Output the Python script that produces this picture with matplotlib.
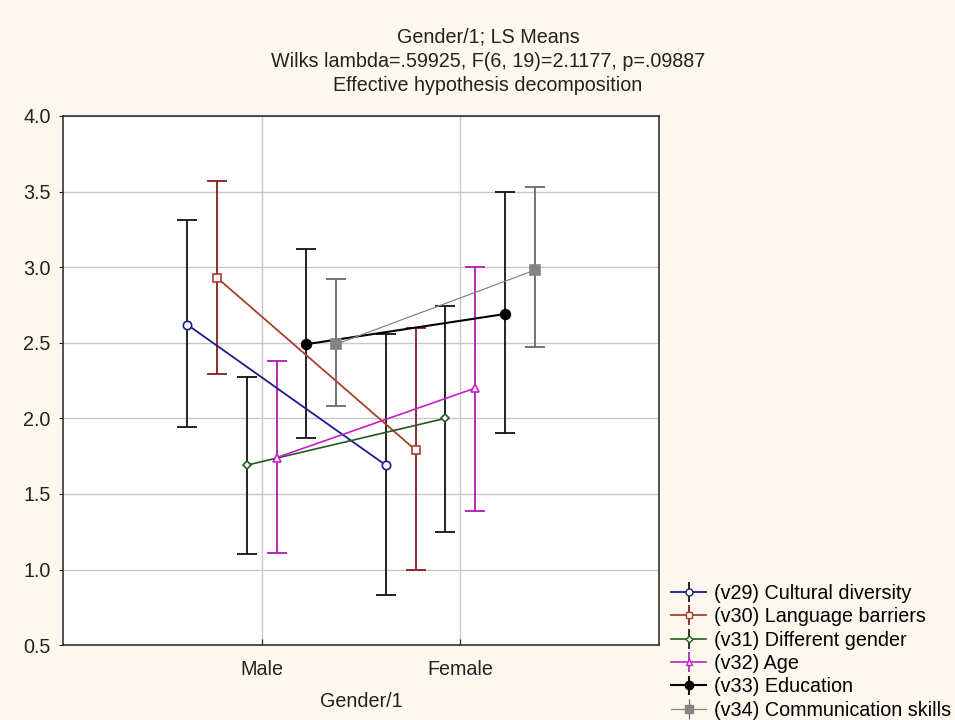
import matplotlib

matplotlib.use("Agg")
import matplotlib.pyplot as plt
import numpy as np

plt.rcParams["font.family"] = ["Liberation Sans", "DejaVu Sans"]

# LS means and confidence limits by gender (Male, Female)
groups = ["Male", "Female"]
labels = [
    "(v29) Cultural diversity",
    "(v30) Language barriers",
    "(v31) Different gender",
    "(v32) Age",
    "(v33) Education",
    "(v34) Communication skills",
]
means = [
    [2.62, 1.69],
    [2.93, 1.79],
    [1.69, 2.00],
    [1.74, 2.20],
    [2.49, 2.69],
    [2.49, 2.98],
]
upper = [
    [3.31, 2.56],
    [3.57, 2.60],
    [2.27, 2.74],
    [2.38, 3.00],
    [3.12, 3.50],
    [2.92, 3.53],
]
lower = [
    [1.94, 0.83],
    [2.29, 1.00],
    [1.10, 1.25],
    [1.11, 1.39],
    [1.87, 1.90],
    [2.08, 2.47],
]

line_colors = ["#1c1c8c", "#a8402e", "#1d5c22", "#c81ec8", "#000000", "#858585"]
bar_colors = ["#111111", "#8a1e1e", "#111111", "#b418b4", "#111111", "#6a6a6a"]
markers = ["o", "s", "D", "^", "o", "s"]
filled = [False, False, False, False, True, True]
msizes = [6, 6, 4.5, 6, 7, 7]
line_widths = [1.3, 1.3, 1.2, 1.2, 1.5, 0.9]

FS = 14.2
TXT = "#222222"

fig = plt.figure(figsize=(9.55, 7.2), dpi=100, facecolor="#fcf8ee")
ax = fig.add_axes([0.066, 0.104, 0.624, 0.735])
ax.set_facecolor("white")

base_x = np.array([1.0, 2.0])
offsets = np.linspace(-0.375, 0.375, len(labels))
for i, lab in enumerate(labels):
    x = base_x + offsets[i]
    m = np.array(means[i])
    yerr = [m - np.array(lower[i]), np.array(upper[i]) - m]
    ax.errorbar(
        x, m, yerr=yerr,
        fmt="none", ecolor=bar_colors[i], elinewidth=1.3,
        capsize=7, capthick=1.3, zorder=2,
    )
    ax.plot(
        x, m,
        color=line_colors[i], linewidth=line_widths[i],
        marker=markers[i], markersize=msizes[i],
        markerfacecolor=line_colors[i] if filled[i] else "white",
        markeredgecolor=line_colors[i], markeredgewidth=1.2,
        zorder=3,
    )

# legend handles with the whiskers drawn in
handles = []
for i, lab in enumerate(labels):
    h = ax.errorbar(
        [], [], yerr=[],
        color=line_colors[i], ecolor=bar_colors[i], linewidth=line_widths[i],
        marker=markers[i], markersize=msizes[i] - 1,
        markerfacecolor=line_colors[i] if filled[i] else "white",
        markeredgecolor=line_colors[i], capsize=10, label=lab,
    )
    handles.append(h)

ax.set_xlim(0, 3)
ax.set_ylim(0.5, 4.0)
ax.set_xticks(base_x)
ax.set_xticklabels(groups)
ax.set_yticks(np.arange(0.5, 4.01, 0.5))
ax.set_yticklabels([f"{v:.1f}" for v in np.arange(0.5, 4.01, 0.5)])
ax.grid(True, color="#c8c8c8", linewidth=1.0)
ax.set_axisbelow(True)
ax.tick_params(axis="both", labelsize=FS, colors=TXT, length=4, width=0.8)
ax.tick_params(axis="x", direction="in", pad=11)
ax.tick_params(axis="y", direction="out", length=3, pad=6)
for s in ax.spines.values():
    s.set_color("#333333")
    s.set_linewidth(1.2)
ax.set_xlabel("Gender/1", fontsize=FS, color=TXT, labelpad=9)

fig.text(0.511, 0.949, "Gender/1; LS Means", ha="center", va="center", fontsize=FS, color=TXT)
fig.text(0.511, 0.914, "Wilks lambda=.59925, F(6, 19)=2.1177, p=.09887",
         ha="center", va="center", fontsize=FS, color=TXT)
fig.text(0.511, 0.881, "Effective hypothesis decomposition",
         ha="center", va="center", fontsize=FS, color=TXT)

fig.legend(
    handles=handles, labels=labels,
    loc="upper left", bbox_to_anchor=(0.703, 0.189),
    frameon=False, fontsize=FS, handlelength=1.75, handletextpad=0.4,
    labelspacing=0.22, borderpad=0.0, borderaxespad=0.0,
)

fig.savefig("out.png", dpi=100, facecolor=fig.get_facecolor())
